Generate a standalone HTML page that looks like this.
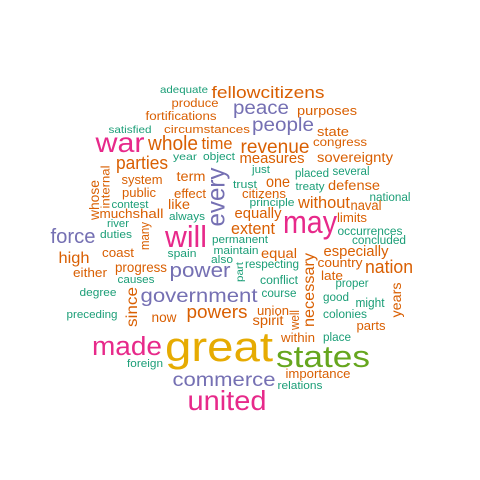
<!DOCTYPE html>
<html><head><meta charset="utf-8">
<style>
html,body{margin:0;padding:0;background:#fff;}
svg{display:block;}
text{font-family:"Liberation Sans",Arial,sans-serif;}
</style></head>
<body>
<svg id="cloud" width="480" height="480" viewBox="0 0 480 480" xmlns="http://www.w3.org/2000/svg">
<rect width="480" height="480" fill="#fff"/>
<g id="words"></g>
</svg>
<script>
// word data: word, size (frequency-scaled), colour group
const words = ["adequate","fellowcitizens","produce","fortifications","peace","purposes","satisfied","circumstances","people","state","war","whole","time","revenue","congress","sovereignty","year","object","measures","parties","every","just","placed","several","term","system","trust","one","treaty","defense","public","effect","citizens","national","principle","without","naval","whose","internal","contest","like","equally","limits","much","shall","always","river","many","will","may","occurrences","extent","force","duties","permanent","concluded","high","coast","spain","maintain","equal","especially","also","part","respecting","necessary","country","nation","progress","power","either","causes","late","conflict","proper","years","degree","since","government","course","good","might","preceding","now","powers","union","well","spirit","colonies","parts","made","great","within","place","states","foreign","commerce","importance","relations","united"];
const sizes = [11,18,13,13,21,14,11,12,21,14,30,22,18,21,13,15,11,12,16,20,27,12,13,13,15,14,12,17,12,15,14,14,14,13,12,18,15,15,13,12,15,16,14,14,14,12,12,14,33,34,13,18,22,12,12,13,17,14,12,12,15,16,12,11,13,17,14,20,15,22,14,12,14,13,13,15,12,17,21,13,13,14,12,15,20,14,14,15,13,14,28,44,14,13,32,12,21,14,12,30];
const colorIdx = [0,1,1,1,2,1,0,1,2,1,3,1,1,1,1,1,0,0,1,1,2,0,0,0,1,1,0,1,0,1,1,1,1,0,0,1,1,1,1,0,1,1,1,1,1,0,0,1,3,3,0,1,2,0,0,0,1,1,0,0,1,1,0,0,0,1,1,1,1,2,1,0,1,0,0,1,0,1,2,0,0,0,0,1,1,1,1,1,0,1,3,5,1,0,4,0,2,1,0,3];
const palette = ["#1b9e77","#d95f02","#7570b3","#e7298a","#66a61e","#e6ab02"];
// layout (placement from the cloud algorithm): centre x, baseline y, width, rotated flag
const layoutX = [184,268,195,181,261,327,130,207,283,333,120,173,217,275,340,355,185,219,272,142,217,261,312,351,191,142,245,278,310,354,139,190,264,390,272,324,366,95,106,130,179,258,352,116,148,187,118,145,186,310,370,253,73,116,240,379,74,118,182,236,279,356,222,240,272,309,340,389,141,200,90,136,332,279,352,397,98,132,199,279,336,370,92,164,217,273,295,268,345,371,127,219,298,337,323,145,224,318,300,227];
const layoutY = [93,98,107,120,114,115,133,133,131,136,152,150,149,153,146,162,160,160,163,169,197,173,177,175,181,184,188,187,190,190,197,198,198,201,206,208,210,200,187,208,209,218,222,218,218,220,227,236,247,233,235,234,243,238,243,244,263,257,257,254,258,256,263,272,268,290,267,273,272,277,277,283,280,284,287,300,296,307,302,297,301,307,318,322,318,315,320,325,318,330,355,361,342,341,367,367,386,378,389,410];
const layoutW = [48,113,47,71,56,60,43,86,62,32,49,50,31,69,54,76,24,32,65,52,59,18,34,37,29,41,24,24,29,52,34,32,44,41,45,52,31,40,43,37,22,47,30,33,31,36,22,28,42,54,65,44,45,32,56,54,31,32,29,45,36,65,22,20,54,74,45,48,52,61,34,37,22,38,33,35,37,40,117,35,26,29,51,25,61,32,20,31,44,29,70,108,34,28,94,36,103,65,45,79];
const rotated = [0,0,0,0,0,0,0,0,0,0,0,0,0,0,0,0,0,0,0,0,1,0,0,0,0,0,0,0,0,0,0,0,0,0,0,0,0,1,1,0,0,0,0,0,0,0,0,1,0,0,0,0,0,0,0,0,0,0,0,0,0,0,0,1,0,1,0,0,0,0,0,0,0,0,0,1,0,1,0,0,0,0,0,0,0,0,1,0,0,0,0,0,0,0,0,0,0,0,0,0];

const NS = "http://www.w3.org/2000/svg";
const SCALE = 0.94;
const g = document.getElementById("words");
for (let i = 0; i < words.length; i++) {
  const t = document.createElementNS(NS, "text");
  const fs = sizes[i] * SCALE;
  t.textContent = words[i];
  t.setAttribute("font-size", fs.toFixed(1));
  t.setAttribute("fill", palette[colorIdx[i]]);
  t.setAttribute("text-anchor", "middle");
  t.setAttribute("textLength", layoutW[i]);
  t.setAttribute("lengthAdjust", "spacingAndGlyphs");
  if (rotated[i]) {
    t.setAttribute("x", 0);
    t.setAttribute("y", fs * 0.3);
    t.setAttribute("transform", "translate(" + layoutX[i] + "," + layoutY[i] + ") rotate(-90)");
  } else {
    t.setAttribute("x", layoutX[i]);
    t.setAttribute("y", layoutY[i]);
  }
  
  
  g.appendChild(t);
}
</script>
</body></html>
